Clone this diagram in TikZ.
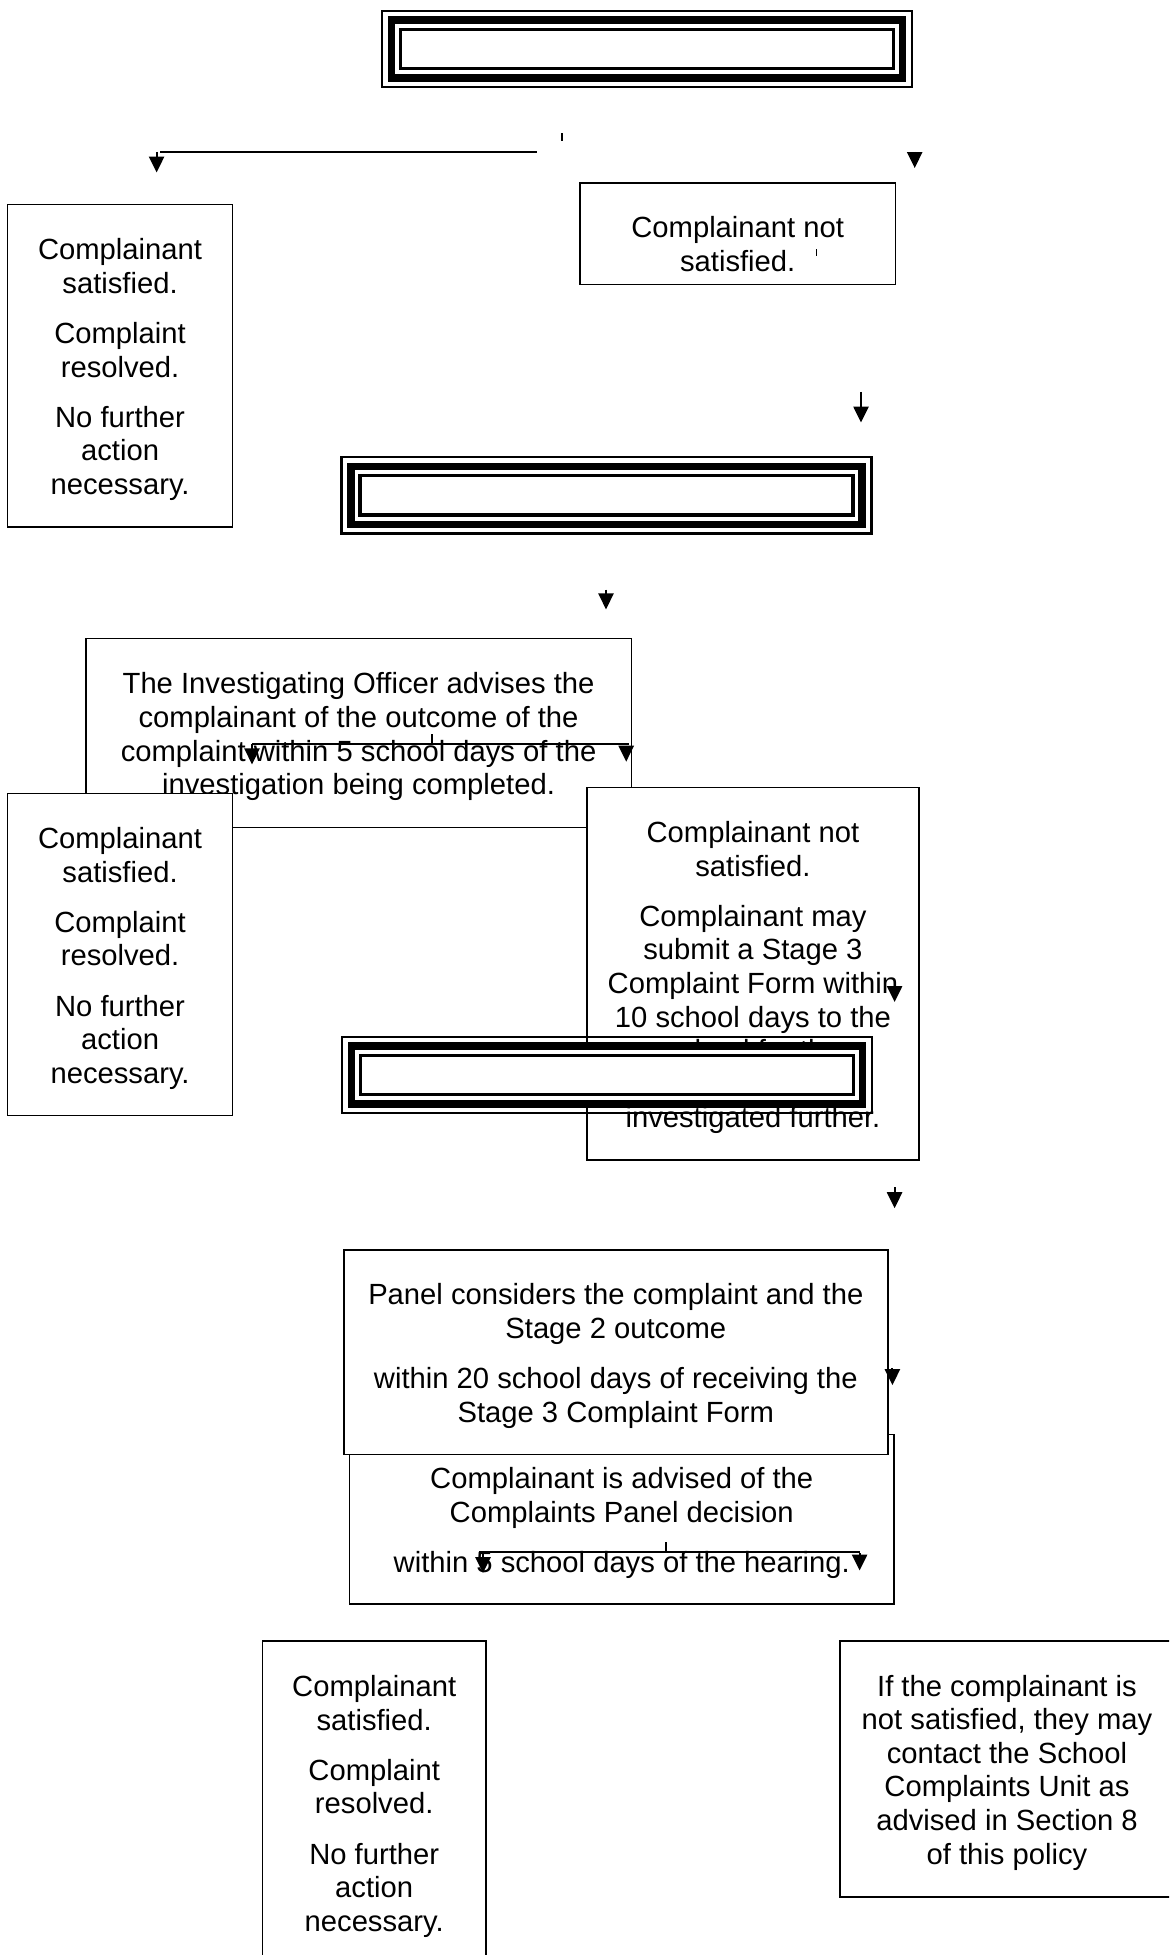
\documentclass[tikz,border=0pt]{standalone}
\usepackage{fontspec}
\setmainfont{Liberation Sans}
\usetikzlibrary{arrows.meta}

\tikzset{
  txtbox/.style={draw, line width=0.8pt, fill=white, align=center, inner sep=0pt,
    font=\fontsize{14.6}{16.8}\selectfont},
  stagebox/.style={draw, line width=3.7pt, fill=white, inner sep=0pt, outer sep=0pt,
    minimum width=255.6pt, minimum height=28.9pt},
  link/.style={line width=1pt},
  arr/.style={link, -{Triangle[length=8pt,width=7.6pt]}},
}
\newcommand{\pgap}{\\[8.3pt]}
\newcommand{\lift}[1]{\rule{0pt}{#1}}

\begin{document}
\begin{tikzpicture}[x=0.5pt,y=-0.5pt]

\useasboundingbox (0,0) rectangle (1169,1955);
\clip (0,0) rectangle (1169,1955);

% stage one
\node[stagebox] (stageone) at (646.8,48.9) {};
\coordinate (splitA) at (160.3,151.8);
\coordinate (splitB) at (536.8,151.8);
\coordinate (tickA) at (562,133);
\coordinate (tickB) at (562,141);
\coordinate (yesA) at (156.6,151.8);
\coordinate (yesB) at (156.6,172.5);
\coordinate (noA) at (914.7,151.8);
\coordinate (noB) at (914.7,168);
\draw[link] (splitA) -- (splitB);
\draw[link] (tickA) -- (tickB);
\draw[arr] (yesA) -- (yesB);
\draw[arr] (noA) -- (noB);

\node[txtbox, minimum width=112.5pt, minimum height=161.1pt] (satisfiedone) at (120.05,365.7)
  {\lift{14.5pt}Complainant\\satisfied.\pgap Complaint\\resolved.\pgap No further\\action\\necessary.};
\node[txtbox, minimum width=157.7pt, minimum height=50.7pt] (notsatone) at (737.7,233.9)
  {\lift{20.5pt}Complainant not\\satisfied.};
\coordinate (markA) at (816.3,249);
\coordinate (markB) at (816.3,256);
\draw[line width=0.7pt] (markA) -- (markB);

\coordinate (toTwoA) at (861,391.8);
\coordinate (toTwoB) at (861,422.5);
\draw[arr] (toTwoA) -- (toTwoB);

% stage two
\node[stagebox] (stagetwo) at (606.5,495.3) {};
\coordinate (invA) at (606,589.7);
\coordinate (invB) at (606,609.4);
\draw[arr] (invA) -- (invB);

\node[txtbox, minimum width=272.85pt, minimum height=94.5pt] (outcome) at (358.55,732.8)
  {\lift{14.5pt}The Investigating Officer advises the\\complainant of the outcome of the\\complaint within 5 school days of the\\investigation being completed.};
\coordinate (outL) at (252,744.3);
\coordinate (outR) at (628.5,744.3);
\coordinate (outTick) at (432.4,734);
\coordinate (outTickB) at (432.4,744.3);
\coordinate (outLB) at (252,764.4);
\coordinate (outRA) at (626.2,745.8);
\coordinate (outRB) at (626.2,761.7);
\draw[link] (outL) -- (outR);
\draw[link] (outTick) -- (outTickB);
\draw[arr] (outL) -- (outLB);
\draw[arr] (outRA) -- (outRB);

\node[txtbox, minimum width=112.5pt, minimum height=161.1pt] (satisfiedtwo) at (120.05,954.4)
  {\lift{14.5pt}Complainant\\satisfied.\pgap Complaint\\resolved.\pgap No further\\action\\necessary.};
\node[txtbox, minimum width=166.25pt, minimum height=186.4pt] (notsattwo) at (752.95,973.8)
  {\lift{14.5pt}Complainant not\\satisfied.\pgap Complainant may\\submit a Stage 3\\Complaint Form within\\10 school days to the\\school for the\\complaint to be\\investigated further.};
\coordinate (formA) at (894.6,986.2);
\coordinate (formB) at (894.6,1002);
\draw[arr] (formA) -- (formB);

% stage three
\node[stagebox] (stagethree) at (607,1075) {};
\foreach \s in {stageone,stagetwo,stagethree}{
  \draw[line width=1.2pt] ([shift={(-9.3,-9.3)}]\s.north west) rectangle ([shift={(9.3,9.3)}]\s.south east);
  \draw[line width=1.7pt] ([shift={(9.2,9.2)}]\s.north west) rectangle ([shift={(-9.2,-9.2)}]\s.south east);
}
\coordinate (panelA) at (894.6,1187.4);
\coordinate (panelB) at (894.6,1208.2);
\draw[arr] (panelA) -- (panelB);

\node[txtbox, minimum width=272.15pt, minimum height=84.75pt] (decision) at (621.75,1519.35)
  {\lift{14.5pt}Complainant is advised of the\\Complaints Panel decision\pgap within 5 school days of the hearing.};
\node[txtbox, minimum width=272.1pt, minimum height=102.3pt] (panel) at (615.8,1352)
  {\lift{14.5pt}Panel considers the complaint and the\\Stage 2 outcome\pgap within 20 school days of receiving the\\Stage 3 Complaint Form};
\coordinate (hearA) at (892.4,1367.8);
\coordinate (hearB) at (892.4,1385.1);
\draw[arr] (hearA) -- (hearB);

\coordinate (decL) at (479.4,1552.2);
\coordinate (decR) at (859.6,1552.2);
\coordinate (decTick) at (665.7,1542.3);
\coordinate (decTickB) at (665.7,1552.2);
\coordinate (decLA) at (483,1553);
\coordinate (decLB) at (483,1573);
\coordinate (decRA) at (859.6,1553);
\coordinate (decRB) at (859.6,1570.5);
\draw[link] (decL) -- (decR);
\draw[link] (decTick) -- (decTickB);
\draw[arr] (decLA) -- (decLB);
\draw[arr] (decRA) -- (decRB);

\node[txtbox, minimum width=111.8pt, minimum height=161.8pt] (satisfiedthree) at (374.2,1802.5)
  {\lift{14.5pt}Complainant\\satisfied.\pgap Complaint\\resolved.\pgap No further\\action\\necessary.};
\node[txtbox, minimum width=166.9pt, minimum height=128pt] (unit) at (1007,1768.7)
  {\lift{14.5pt}If the complainant is\\not satisfied, they may\\contact the School\\Complaints Unit as\\advised in Section 8\\of this policy};

\end{tikzpicture}
\end{document}
